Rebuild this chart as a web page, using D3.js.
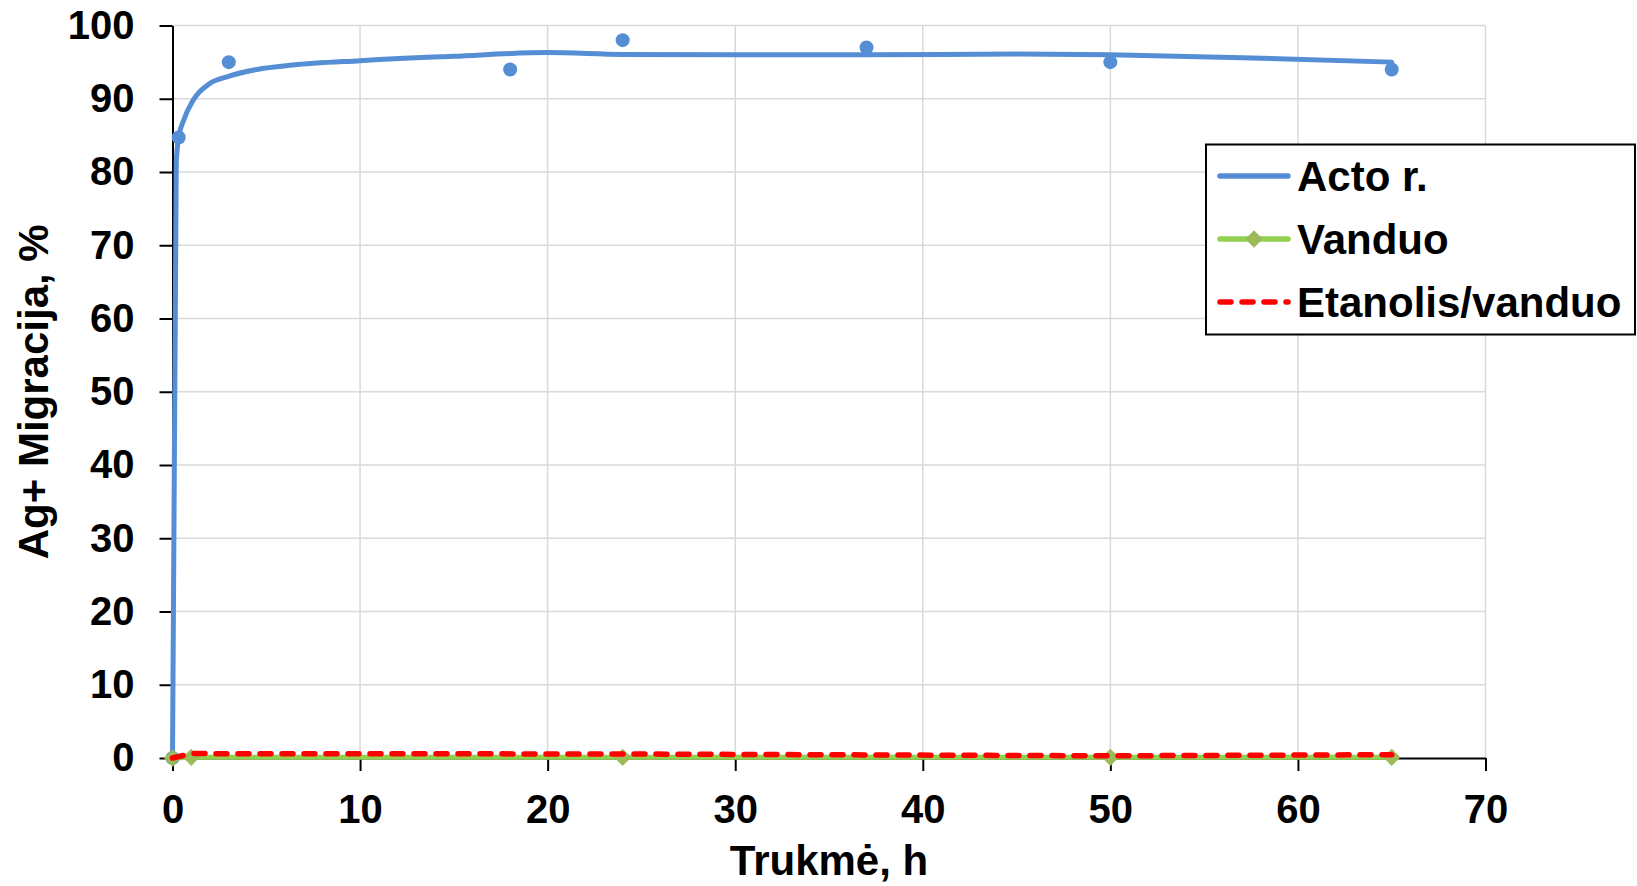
<!DOCTYPE html>
<html>
<head>
<meta charset="utf-8">
<script src="https://cdn.jsdelivr.net/npm/d3@7"></script>
<style>
  body { margin: 0; background: #fff; }
  text { font-family: "Liberation Sans", Arial, sans-serif; font-weight: bold; fill: #000; }
</style>
</head>
<body>
<svg id="chart"></svg>
<script>
// Acto r. measured points
const actoX = [0, 0.33, 3, 18, 24, 37, 50, 65];
const actoY = [0, 84.7, 95, 94, 98, 97, 95, 94];
// Acto r. smoothed curve
const actoCurveX = [0, 0.2, 0.33, 0.6, 1.1, 2, 2.9, 4.5, 6.4, 10, 15, 20, 24, 30, 37, 45, 50, 57, 65];
const actoCurveY = [0, 81.3, 84.7, 87.1, 89.8, 92.1, 93.0, 94.0, 94.6, 95.2, 95.8, 96.3, 96.05, 96.0, 96.0, 96.1, 96.0, 95.6, 95.0];
// Vanduo
const vanduoX = [0, 1, 24, 50, 65];
const vanduoY = [0, 0.1, 0.1, 0.1, 0.1];
// Etanolis/vanduo
const etanolisX = [0, 1, 24, 50, 65];
const etanolisY = [0, 0.6, 0.55, 0.3, 0.45];

const xTicks = [0, 10, 20, 30, 40, 50, 60, 70];
const yTicks = [0, 10, 20, 30, 40, 50, 60, 70, 80, 90, 100];
const legendLabels = ["Acto r.", "Vanduo", "Etanolis/vanduo"];

const width = 1637, height = 886;
const margin = {top: 25.5, right: 151.5, bottom: 128, left: 172.5};

const blue = "#558ed5", green = "#92d050", greenMark = "#9bbb59", red = "#ff0000";

const svg = d3.select("#chart")
    .attr("width", width)
    .attr("height", height);

let x = d3.scaleLinear()
    .domain([0, 70])
    .range([margin.left, width - margin.right]);

let y = d3.scaleLinear()
    .domain([0, 100])
    .range([height - margin.bottom, margin.top]);

// grid
svg.append("g")
    .selectAll("line")
    .data(yTicks.slice(1))
    .join("line")
    .attr("x1", x(0)).attr("x2", x(70))
    .attr("y1", d => y(d)).attr("y2", d => y(d))
    .attr("stroke", "#d9d9d9").attr("stroke-width", 1.5);

svg.append("g")
    .selectAll("line")
    .data(xTicks.slice(1))
    .join("line")
    .attr("x1", d => x(d)).attr("x2", d => x(d))
    .attr("y1", y(0)).attr("y2", y(100))
    .attr("stroke", "#d9d9d9").attr("stroke-width", 1.5);

// axes
let xAxis = g => g
    .attr("transform", `translate(0,${y(0)})`)
    .call(d3.axisBottom(x).tickValues(xTicks).tickSize(13).tickPadding(24).tickSizeOuter(0))
    .call(g => g.selectAll("path, line").attr("stroke", "#000").attr("stroke-width", 2))
    .call(g => g.selectAll("text").attr("font-size", 40).attr("font-family", null));

let yAxis = g => g
    .attr("transform", `translate(${x(0)},0)`)
    .call(d3.axisLeft(y).tickValues(yTicks).tickSize(13).tickPadding(25).tickSizeOuter(0))
    .call(g => g.selectAll("path, line").attr("stroke", "#000").attr("stroke-width", 2))
    .call(g => g.selectAll("text").attr("font-size", 40).attr("font-family", null));

svg.append("g").call(xAxis);
svg.append("g").call(yAxis);

// axis titles
svg.append("text")
    .attr("x", (x(0) + x(70)) / 2)
    .attr("y", 875)
    .attr("text-anchor", "middle")
    .attr("font-size", 42)
    .text("Trukmė, h");

svg.append("text")
    .attr("transform", `translate(48,${(y(0) + y(100)) / 2}) rotate(-90)`)
    .attr("text-anchor", "middle")
    .attr("font-size", 42)
    .text("Ag+ Migracija, %");

const line = d3.line()
    .x(d => x(d[0]))
    .y(d => y(d[1]));

// Vanduo
const vanduo = vanduoX.map((v, i) => [v, vanduoY[i]]);
svg.append("path")
    .attr("d", line(vanduo))
    .attr("fill", "none")
    .attr("stroke", green)
    .attr("stroke-width", 5);

const diamond = d3.symbol().type(d3.symbolDiamond2).size(190);

// Acto r. curve and points
const actoCurve = actoCurveX.map((v, i) => [v, actoCurveY[i]]);
svg.append("path")
    .attr("d", line.curve(d3.curveMonotoneX)(actoCurve))
    .attr("fill", "none")
    .attr("stroke", blue)
    .attr("stroke-width", 5)
    .attr("stroke-linecap", "round");
line.curve(d3.curveLinear);

svg.append("g")
    .selectAll("circle")
    .data(actoX.map((v, i) => [v, actoY[i]]))
    .join("circle")
    .attr("cx", d => x(d[0]))
    .attr("cy", d => y(d[1]))
    .attr("r", 7)
    .attr("fill", blue);

svg.append("g")
    .selectAll("path")
    .data(vanduo)
    .join("path")
    .attr("transform", d => `translate(${x(d[0])},${y(d[1])})`)
    .attr("d", diamond)
    .attr("fill", greenMark);

// Etanolis/vanduo
svg.append("path")
    .attr("d", line(etanolisX.map((v, i) => [v, etanolisY[i]])))
    .attr("fill", "none")
    .attr("stroke", red)
    .attr("stroke-width", 5.5)
    .attr("stroke-linecap", "round")
    .attr("stroke-dasharray", "11,11");

// legend
const legend = svg.append("g");
legend.append("rect")
    .attr("x", 1206).attr("y", 144.5)
    .attr("width", 429).attr("height", 190)
    .attr("fill", "#fff").attr("stroke", "#000").attr("stroke-width", 2);

const rows = [176, 239, 302];
const styles = [
    {color: blue, dash: null},
    {color: green, dash: null},
    {color: red, dash: "11,11"}
];

legendLabels.forEach((label, i) => {
    legend.append("line")
        .attr("x1", 1220).attr("x2", 1288)
        .attr("y1", rows[i]).attr("y2", rows[i])
        .attr("stroke", styles[i].color)
        .attr("stroke-width", 5.5)
        .attr("stroke-linecap", "round")
        .attr("stroke-dasharray", styles[i].dash);
    if (i === 1) {
        legend.append("path")
            .attr("transform", `translate(1254,${rows[i]})`)
            .attr("d", diamond)
            .attr("fill", greenMark);
    }
    legend.append("text")
        .attr("x", 1297)
        .attr("y", rows[i] + 15)
        .attr("font-size", 42)
        .text(label);
});
</script>
</body>
</html>
